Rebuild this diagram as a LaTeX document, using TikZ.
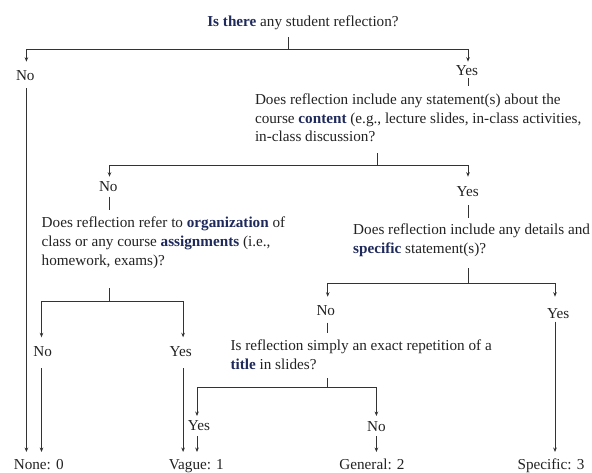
\documentclass[tikz,border=0pt]{standalone}
\usepackage{fontspec}
\setmainfont{Liberation Serif}
\usetikzlibrary{arrows.meta}
\definecolor{navy}{HTML}{1F2A5C}
\definecolor{ink}{HTML}{222222}
\definecolor{wire}{HTML}{333333}
\newcommand{\kw}[1]{\textbf{\color{navy}#1}}
\begin{document}
\begin{tikzpicture}[x=1pt,y=-1pt,
  txt/.style={font=\fontsize{15.2}{18.6}\selectfont, text=ink, inner sep=0pt},
  lbl/.style={txt, anchor=base},
  qbox/.style={txt, anchor=base west, align=left},
  ln/.style={line width=0.9pt, draw=wire},
  arr/.style={ln, -{Stealth[length=4.5pt,width=3.6pt]}}]
\useasboundingbox (0,0) rectangle (592,472);

% texts (multi-line nodes: base = baseline of the last line)
\node[lbl] (q1) at (303,26) {\kw{Is there} any student reflection?};
\node[lbl] (no1) at (25.3,80) {No};
\node[lbl] (yes1) at (467,75) {Yes};
\node[qbox] (q2) at (254.8,141.7) {Does reflection include any statement(s) about the\\course \kw{content} (e.g., lecture slides, in-class activities,\\in-class discussion?};
\node[lbl] (no2) at (108.3,191.7) {No};
\node[lbl] (yes2) at (467.7,196.7) {Yes};
\node[qbox] (q3) at (41.5,265) {Does reflection refer to \kw{organization} of\\class or any course \kw{assignments} (i.e.,\\homework, exams)?};
\node[qbox] (q4) at (353,253.3) {Does reflection include any details and\\\kw{specific} statement(s)?};
\node[lbl] (no3) at (42.7,356.7) {No};
\node[lbl] (yes3) at (180.8,356.7) {Yes};
\node[lbl] (no4) at (325.8,315) {No};
\node[lbl] (yes4) at (558.3,318.3) {Yes};
\node[qbox] (q5) at (230.3,369.3) {Is reflection simply an exact repetition of a\\\kw{title} in slides?};
\node[lbl] (yes5) at (199,430) {Yes};
\node[lbl] (no5) at (376.4,431.7) {No};
\node[lbl] (r0) at (38.7,469.5) {None: 0};
\node[lbl] (r1) at (196.3,469.5) {Vague: 1};
\node[lbl] (r2) at (371.9,469.5) {General: 2};
\node[lbl] (r3) at (551,469.5) {Specific: 3};

% coordinates
\coordinate (q1s) at (288.8,37);
\coordinate (h1) at (288.8,49.3);
\coordinate (a1l) at (26.4,61.7);
\coordinate (a1r) at (468,61.7);
\coordinate (y1s) at (468,78.3);
\coordinate (y1e) at (468,86);
\coordinate (n1s) at (26.4,88.3);
\coordinate (n1e) at (26.4,452);

\coordinate (q2s) at (377.5,153.3);
\coordinate (h2) at (377.5,165.7);
\coordinate (a2l) at (109.5,176.7);
\coordinate (a2r) at (468,176.7);
\coordinate (n2s) at (109.5,196.7);
\coordinate (n2e) at (109.5,210);
\coordinate (y2s) at (468,205);
\coordinate (y2e) at (468,218.3);

\coordinate (q3s) at (109.5,288.3);
\coordinate (h3) at (109.5,301.7);
\coordinate (a3l) at (41.5,337.3);
\coordinate (a3r) at (183.1,337.3);
\coordinate (n3s) at (41.5,368.3);
\coordinate (n3e) at (41.5,452);
\coordinate (y3s) at (183.1,368.3);
\coordinate (y3e) at (183.1,452);

\coordinate (q4s) at (468,268.3);
\coordinate (h4) at (468,283.3);
\coordinate (a4l) at (327.7,296.7);
\coordinate (a4r) at (555,296.7);
\coordinate (n4s) at (327.7,322.7);
\coordinate (n4e) at (327.7,332.7);
\coordinate (y4s) at (555,321.7);
\coordinate (y4e) at (555,452);

\coordinate (q5s) at (327.7,378.3);
\coordinate (h5) at (327.7,387.3);
\coordinate (a5l) at (197,416);
\coordinate (a5r) at (376.4,416);
\coordinate (y5s) at (197,436);
\coordinate (y5e) at (197,452);
\coordinate (n5s) at (376.4,436);
\coordinate (n5e) at (376.4,452);

% connectors
\draw[ln] (q1s) -- (h1);
\draw[arr] (h1) -| (a1l);
\draw[arr] (h1) -| (a1r);
\draw[ln] (y1s) -- (y1e);
\draw[arr] (n1s) -- (n1e);

\draw[ln] (q2s) -- (h2);
\draw[arr] (h2) -| (a2l);
\draw[arr] (h2) -| (a2r);
\draw[ln] (n2s) -- (n2e);
\draw[ln] (y2s) -- (y2e);

\draw[ln] (q3s) -- (h3);
\draw[arr] (h3) -| (a3l);
\draw[arr] (h3) -| (a3r);
\draw[arr] (n3s) -- (n3e);
\draw[arr] (y3s) -- (y3e);

\draw[ln] (q4s) -- (h4);
\draw[arr] (h4) -| (a4l);
\draw[arr] (h4) -| (a4r);
\draw[ln] (n4s) -- (n4e);
\draw[arr] (y4s) -- (y4e);

\draw[ln] (q5s) -- (h5);
\draw[arr] (h5) -| (a5l);
\draw[arr] (h5) -| (a5r);
\draw[arr] (y5s) -- (y5e);
\draw[arr] (n5s) -- (n5e);
\end{tikzpicture}
\end{document}
